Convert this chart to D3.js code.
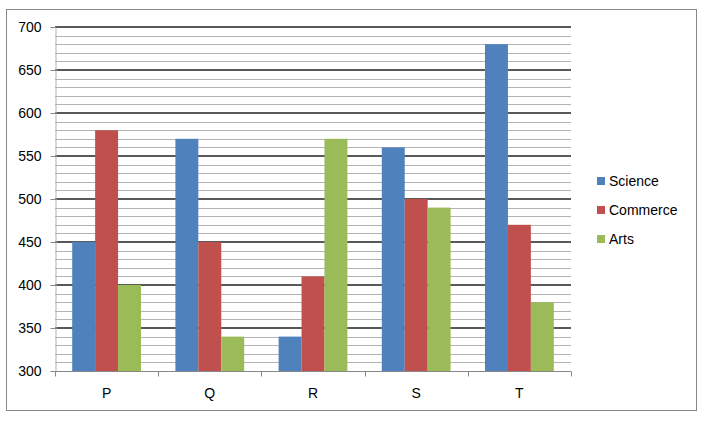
<!DOCTYPE html>
<html><head><meta charset="utf-8">
<script src="https://cdn.jsdelivr.net/npm/d3@7"></script>
<style>body{margin:0;background:#fff;}svg{display:block;}</style>
</head><body>
<script>
const categories = ["P","Q","R","S","T"];
const seriesNames = ["Science","Commerce","Arts"];
const science = [450,570,340,560,680];
const commerce = [580,450,410,500,470];
const arts = [400,340,570,490,380];
const colors = ["#4f81bd","#c0504d","#9bbb59"];
const yMajorTicks = [300,350,400,450,500,550,600,650,700];

(function(){
const W=721,H=421;
const FONT="Liberation Sans, Arial, sans-serif";
const svg=d3.select("body").append("svg").attr("width",W).attr("height",H);
svg.append("rect").attr("x",6.5).attr("y",9.5).attr("width",690).attr("height",401)
  .attr("fill","#fff").attr("stroke","#888").attr("stroke-width",1);

const pL=55,pR=571,pT=27,pB=371;
const x=d3.scaleBand().domain(categories).range([pL,pR]).paddingInner(0).paddingOuter(0);
const y=d3.scaleLinear().domain([300,700]).range([pB,pT]);
const barW=x.bandwidth()/4.5;
const series=[science,commerce,arts];

const minor=d3.range(310,700,10).filter(v=>v%50!==0);
svg.append("g").selectAll("line").data(minor).join("line")
  .attr("x1",pL).attr("x2",pR)
  .attr("y1",d=>Math.round(y(d))+0.5).attr("y2",d=>Math.round(y(d))+0.5)
  .attr("stroke","#b3b3b3").attr("stroke-width",1);
svg.append("g").selectAll("line").data(yMajorTicks.filter(v=>v>300)).join("line")
  .attr("x1",pL).attr("x2",pR)
  .attr("y1",d=>Math.round(y(d))).attr("y2",d=>Math.round(y(d)))
  .attr("stroke","#595959").attr("stroke-width",2);

series.forEach((vals,si)=>{
  svg.append("g").selectAll("rect").data(categories).join("rect")
    .attr("x",(c)=>x(c)+barW*0.75+si*barW)
    .attr("width",barW)
    .attr("y",(c,i)=>y(vals[i]))
    .attr("height",(c,i)=>y(300)-y(vals[i]))
    .attr("fill",colors[si]);
});

const yAxis=svg.append("g").attr("transform",`translate(${pL+0.5},0)`)
  .call(d3.axisLeft(y).tickValues(yMajorTicks).tickSize(5).tickPadding(9).tickFormat(d3.format("d")));
yAxis.select(".domain").attr("stroke","#b3b3b3");
yAxis.selectAll(".tick line").attr("stroke","#888");
yAxis.selectAll("text").attr("font-family",FONT).attr("font-size","14px").attr("fill","#000");

const xAxis=svg.append("g").attr("transform",`translate(0,${pB+0.5})`);
xAxis.append("line").attr("x1",pL).attr("x2",pR).attr("stroke","#888");
const bounds=categories.map(c=>x(c)).concat([pR]);
xAxis.selectAll("line.t").data(bounds).join("line").attr("class","t")
  .attr("x1",d=>Math.round(d)+0.5).attr("x2",d=>Math.round(d)+0.5).attr("y1",0).attr("y2",5).attr("stroke","#888");
xAxis.selectAll("text").data(categories).join("text")
  .attr("x",c=>x(c)+x.bandwidth()/2).attr("y",26).attr("text-anchor","middle")
  .attr("font-family",FONT).attr("font-size","14px").attr("fill","#000").text(c=>c);

const leg=svg.append("g");
seriesNames.forEach((n,i)=>{
  const ly=181+i*29;
  leg.append("rect").attr("x",597).attr("y",ly-4).attr("width",8).attr("height",8).attr("fill",colors[i]);
  leg.append("text").attr("x",609).attr("y",ly+5).attr("font-family",FONT)
    .attr("font-size","14px").attr("fill","#000").text(n);
});
})();
</script>
</body></html>
